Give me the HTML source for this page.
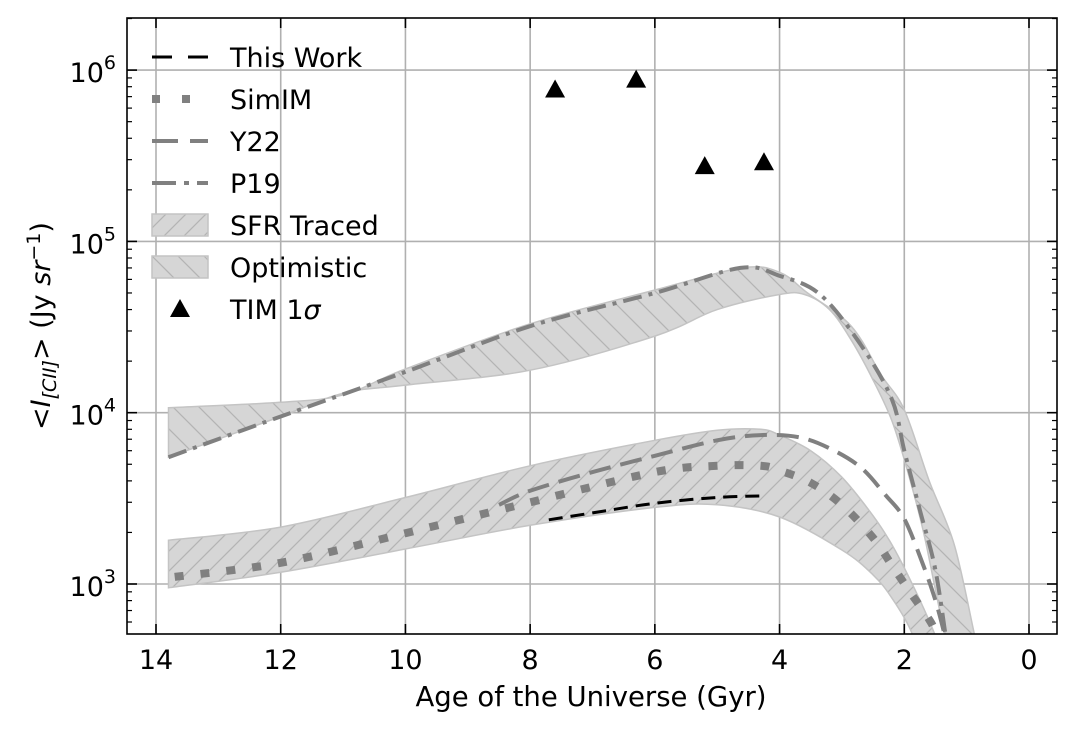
<!DOCTYPE html>
<html><head><meta charset="utf-8"><style>
body{margin:0;background:#fff}
svg{display:block;font-family:"DejaVu Sans","Liberation Sans",sans-serif}
</style></head><body>
<svg id="chart" width="1076" height="732" viewBox="0 0 1076 732" xmlns="http://www.w3.org/2000/svg">
<defs>
<pattern id="hatchF" patternUnits="userSpaceOnUse" width="20" height="20"><path d="M-5,5 L5,-5 M0,20 L20,0 M15,25 L25,15" stroke="#b4b4b4" stroke-width="1.3"/></pattern>
<pattern id="hatchB" patternUnits="userSpaceOnUse" width="26" height="26"><path d="M-5,21 L5,31 M0,0 L26,26 M21,-5 L31,5" stroke="#b4b4b4" stroke-width="1.3"/></pattern>
<clipPath id="plotClip"><rect x="127" y="18" width="930" height="616"/></clipPath>
</defs>
<g id="grid"></g>
<g id="marks" clip-path="url(#plotClip)"></g>
<g id="axes"></g>
<text x="591" y="706" text-anchor="middle" font-size="27.5">Age of the Universe (Gyr)</text>
<text transform="translate(50,326) rotate(-90)" text-anchor="middle" font-size="27">&lt;<tspan font-style="italic">I</tspan><tspan font-style="italic" font-size="19" dy="6">[CII]</tspan><tspan dy="-6">&gt; (Jy </tspan><tspan font-style="italic">sr</tspan><tspan font-size="19" dy="-10">−1</tspan><tspan dy="10">)</tspan></text>
<g id="legend"></g>
</svg>
<script>
// ---- data ----
const xTicks=[14,12,10,8,6,4,2,0];
const yTickExps=[3,4,5,6];
const optUpperAge=[13.8,12,11,10,8,6,4.6,4,3.55,2.85,2.37,2.0,1.6,1.2,0.87,0.8];
const optUpperVal=[1.07e4,1.15e4,1.27e4,1.8e4,3.3e4,5.2e4,7e4,6.6e4,5e4,3.2e4,1.66e4,1.04e4,4e3,1.7e3,5e2,4e2];
const optLowerAge=[13.8,12,11,10,8,6,5,4,3.6,3.2,2.85,2.5,2.2,1.95,1.7,1.5,1.35,1.3];
const optLowerVal=[5.5e3,9.5e3,1.3e4,1.45e4,1.77e4,2.8e4,4e4,4.9e4,4.9e4,4e4,2.65e4,1.55e4,9e3,4.6e3,2.07e3,9.2e2,5e2,4e2];
const sfrUpperAge=[13.8,12,10,8,6,5,4.3,4,3.5,3,2.5,2.2,1.9,1.6,1.4];
const sfrUpperVal=[1.8e3,2.15e3,3.2e3,4.9e3,6.9e3,7.9e3,8.0e3,7.4e3,6.0e3,4.2e3,2.5e3,1.7e3,1.05e3,6.1e2,4e2];
const sfrLowerAge=[13.8,12,10,8,6,5,4,3,2.5,2.2,1.9,1.8];
const sfrLowerVal=[9.5e2,1.17e3,1.6e3,2.2e3,2.8e3,2.9e3,2.46e3,1.58e3,1.13e3,8.3e2,5.4e2,4e2];
const simAge=[13.7,12,10,8,6,5,4.3,4,3.5,3,2.5,2.2,1.9,1.6,1.5,1.4];
const simVal=[1.1e3,1.33e3,1.98e3,3.0e3,4.5e3,4.9e3,4.9e3,4.6e3,3.9e3,2.9e3,1.86e3,1.29e3,8.9e2,6.2e2,5.2e2,4e2];
const y22Age=[8.5,8,7,6,5,4.3,3.7,3.2,2.7,2.3,2.0,1.7,1.5,1.35,1.3];
const y22Val=[2.9e3,3.5e3,4.5e3,5.6e3,6.9e3,7.4e3,7.2e3,6.2e3,4.8e3,3.3e3,2.4e3,1.3e3,8e2,5e2,4e2];
const p19Age=[13.8,12,10,8,6,4.63,4.0,3.35,2.7,2.2,2.0,1.75,1.5,1.3];
const p19Val=[5.5e3,9.5e3,1.73e4,3.2e4,5.0e4,7e4,6.3e4,4.9e4,2.5e4,1.2e4,6e3,2.7e3,1.2e3,4e2];
const workAge=[7.7,7,6,5,4.2];
const workVal=[2.37e3,2.6e3,2.96e3,3.2e3,3.27e3];
const timAge=[7.6,6.3,5.2,4.25];
const timVal=[7.7e5,8.8e5,2.75e5,2.9e5];
// ---- axes ----
const X=a=>156+(14-a)*62.357;
const Y=v=>584-(Math.log10(v)-3)*171.3;
const NS="http://www.w3.org/2000/svg";
function mk(tag,attrs,parent){const e=document.createElementNS(NS,tag);for(const k in attrs)e.setAttribute(k,attrs[k]);parent.appendChild(e);return e;}
const grid=document.getElementById('grid'),marks=document.getElementById('marks'),axes=document.getElementById('axes'),legend=document.getElementById('legend');
xTicks.forEach(t=>{const x=X(t);
 const g=mk('line',{x1:x,x2:x,y1:18,y2:634,stroke:'#b0b0b0','stroke-width':1.6},grid);
 
 
 mk('line',{x1:x,x2:x,y1:634,y2:624,stroke:'#000','stroke-width':1.6},axes);
 mk('line',{x1:x,x2:x,y1:18,y2:28,stroke:'#000','stroke-width':1.6},axes);
 const l=mk('text',{x:x,y:669,'text-anchor':'middle','font-size':27},axes);l.textContent=t;
 
 
});
yTickExps.forEach(e=>{const y=Y(Math.pow(10,e));
 const g=mk('line',{x1:127,x2:1057,y1:y,y2:y,stroke:'#b0b0b0','stroke-width':1.6},grid);
 
 
 mk('line',{x1:127,x2:137,y1:y,y2:y,stroke:'#000','stroke-width':1.6},axes);
 mk('line',{x1:1057,x2:1047,y1:y,y2:y,stroke:'#000','stroke-width':1.6},axes);
 const l=mk('text',{x:116,y:y+12,'text-anchor':'end','font-size':27},axes);
 l.innerHTML='10<tspan dy="-13" font-size="19">'+e+'</tspan>';
 
 
});
for(let e=2;e<=6;e++)for(let m=2;m<=9;m++){const v=m*Math.pow(10,e);const y=Y(v);if(y<18||y>634)continue;
 mk('line',{x1:127,x2:132,y1:y,y2:y,stroke:'#000','stroke-width':1.2},axes);
 mk('line',{x1:1057,x2:1052,y1:y,y2:y,stroke:'#000','stroke-width':1.2},axes);}
const fr=mk('rect',{x:127,y:18,width:930,height:616,fill:'none',stroke:'#000','stroke-width':1.6},axes);


function P(ag,vl){return ag.map((a,i)=>[X(a),Y(vl[i])]);}
function smooth(p,move){let d=(move?'M':'L')+p[0][0].toFixed(1)+','+p[0][1].toFixed(1);
 for(let i=0;i<p.length-1;i++){const p0=p[i-1]||p[i],p1=p[i],p2=p[i+1],p3=p[i+2]||p2;
  const c1=[p1[0]+(p2[0]-p0[0])/6,p1[1]+(p2[1]-p0[1])/6],c2=[p2[0]-(p3[0]-p1[0])/6,p2[1]-(p3[1]-p1[1])/6];
  d+=`C${c1[0].toFixed(1)},${c1[1].toFixed(1)} ${c2[0].toFixed(1)},${c2[1].toFixed(1)} ${p2[0].toFixed(1)},${p2[1].toFixed(1)}`;}
 return d;}
function band(ua,uv,la,lv,pat,name){const d=smooth(P(ua,uv),true)+smooth(P(la,lv).reverse(),false)+'Z';
 const a=mk('path',{d:d,fill:'#d6d6d6',stroke:'none'},marks);
 
 
 mk('path',{d:d,fill:'url(#'+pat+')',stroke:'#c4c4c4','stroke-width':1.5},marks);}
band(optUpperAge,optUpperVal,optLowerAge,optLowerVal,'hatchB','optimistic-band');
band(sfrUpperAge,sfrUpperVal,sfrLowerAge,sfrLowerVal,'hatchF','sfr-traced-band');
function line(ag,vl,style,name){const l=mk('path',Object.assign({d:smooth(P(ag,vl),true),fill:'none'},style),marks);
 
 }
line(simAge,simVal,{stroke:'#808080','stroke-width':8,'stroke-dasharray':'9 17'},'simim-line');
line(y22Age,y22Val,{stroke:'#808080','stroke-width':4,'stroke-dasharray':'22 10'},'y22-line');
line(p19Age,p19Val,{stroke:'#808080','stroke-width':4,'stroke-dasharray':'19 7 4 7'},'p19-line');
line(workAge,workVal,{stroke:'#000','stroke-width':3,'stroke-dasharray':'14 8'},'this-work-line');
timAge.forEach((a,i)=>{const x=X(a),y=Y(timVal[i]);
 const t=mk('polygon',{points:`${x},${y-10} ${x-10},${y+8} ${x+10},${y+8}`,fill:'#000'},marks);
 
 });
// legend
const LE=[['This Work',{stroke:'#000','stroke-width':3,'stroke-dasharray':'20 16'}],['SimIM',{stroke:'#808080','stroke-width':8,'stroke-dasharray':'8 22'}],['Y22',{stroke:'#808080','stroke-width':4,'stroke-dasharray':'26 12'}],['P19',{stroke:'#808080','stroke-width':4,'stroke-dasharray':'24 8 5 8'}],['SFR Traced','hatchF'],['Optimistic','hatchB'],['TIM 1σ','tri']];
LE.forEach((e,i)=>{const y=57+i*42;const g=mk('g',{},legend);
 
 
 if(typeof e[1]==='object')mk('line',Object.assign({x1:152,x2:208,y1:y,y2:y},e[1]),g);
 else if(e[1]==='tri')mk('polygon',{points:`180,${y-10} 170,${y+8} 190,${y+8}`,fill:'#000'},g);
 else{mk('rect',{x:152,y:y-11,width:56,height:22,fill:'#d6d6d6'},g);mk('rect',{x:152,y:y-11,width:56,height:22,fill:'url(#'+e[1]+')',stroke:'#c4c4c4','stroke-width':1.5},g);}
 const t=mk('text',{x:230,y:y+10,'font-size':27},g);
 if(e[0]==='TIM 1σ')t.innerHTML='TIM 1<tspan font-style="italic">σ</tspan>';else t.textContent=e[0];});
</script>
</body></html>
